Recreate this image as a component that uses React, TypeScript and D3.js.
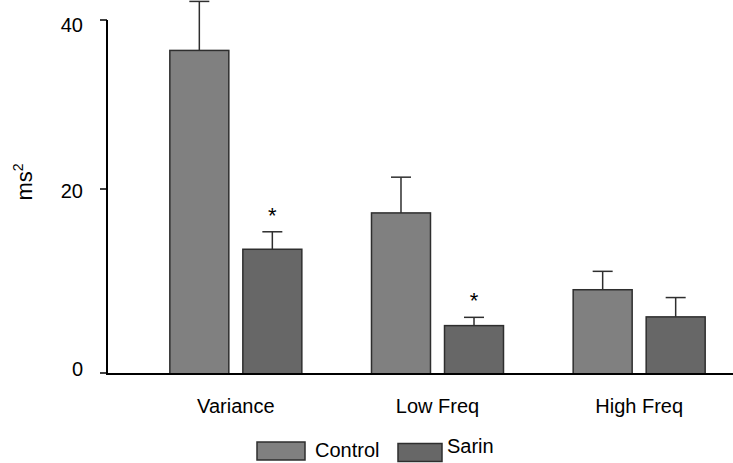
import React from 'react';
import * as d3 from 'd3';

const categories = ['Variance', 'Low Freq', 'High Freq'];
const groups = ['Control', 'Sarin'];
const controlValues = [36.4, 17.4, 9.05];
const controlErrors = [5.8, 4.0, 2.0];
const sarinValues = [13.45, 5.15, 6.1];
const sarinErrors = [1.9, 0.9, 2.1];
const significant = [false, true, false, true, false, false]; // control, sarin per category
const yTicks = [0, 20, 40];

const colors: Record<string, string> = { Control: '#808080', Sarin: '#676767' };
const edge = '#2e2e2e';
const font = 'Liberation Sans, Arial, sans-serif';

export default function App() {
	const width = 733;
	const height = 463;

	// axis in the original is not evenly spaced between ticks
	const y = d3.scaleLinear().domain([0, 20, 40]).range([373, 189, 20]);
	const x = d3.scaleBand().domain(categories).range([135, 740]);
	const inner = d3
		.scaleBand()
		.domain(groups)
		.range([-66, 66])
		.paddingInner(0.192);

	const axisX = 107;
	const baseY = 374;

	const bars = categories.flatMap((c, i) =>
		groups.map((g, j) => {
			const v = g === 'Control' ? controlValues[i] : sarinValues[i];
			const e = g === 'Control' ? controlErrors[i] : sarinErrors[i];
			const cx = (x(c) as number) + x.bandwidth() / 2;
			const bx = cx + (inner(g) as number);
			return { c, g, v, e, bx, star: significant[i * 2 + j] };
		})
	);

	return (
		<svg width={width} height={height} style={{ position: 'absolute', left: 0, top: 0 }}>
			<rect width={width} height={height} fill="#fff" />
			{bars.map(b => {
				const mid = b.bx + inner.bandwidth() / 2;
				const top = y(b.v);
				const capY = y(b.v + b.e);
				return (
					<g key={b.c + b.g}>
						<line x1={mid} x2={mid} y1={top} y2={capY} stroke={edge} strokeWidth={1.5} />
						<line x1={mid - 10} x2={mid + 10} y1={capY} y2={capY} stroke={edge} strokeWidth={1.5} />
						<rect
							x={b.bx}
							y={top}
							width={inner.bandwidth()}
							height={baseY - top}
							fill={colors[b.g]}
							stroke={edge}
							strokeWidth={1.5}
						/>
						{b.star && (
							<text x={mid} y={capY - 9} textAnchor="middle" fontFamily={font} fontSize={22}>
								*
							</text>
						)}
					</g>
				);
			})}

			{/* axes */}
			<line x1={axisX} x2={axisX} y1={y(40)} y2={baseY + 1} stroke="#000" strokeWidth={2} />
			<line x1={axisX - 1} x2={width} y1={baseY} y2={baseY} stroke="#000" strokeWidth={2} />
			{yTicks.map(t => (
				<g key={t}>
					<line x1={axisX - 7} x2={axisX} y1={y(t)} y2={y(t)} stroke="#000" strokeWidth={1.5} />
					<text
						x={83}
						y={y(t) + (t === 40 ? 5 : t === 0 ? -4 : 1.5)}
						dy="0.35em"
						textAnchor="end"
						fontFamily={font}
						fontSize={20}
					>
						{t}
					</text>
				</g>
			))}
			<text
				transform={`translate(32, 182) rotate(-90)`}
				textAnchor="middle"
				fontFamily={font}
				fontSize={22}
			>
				ms<tspan dy={-9} fontSize={14}>2</tspan>
			</text>

			{categories.map(c => (
				<text
					key={c}
					x={(x(c) as number) + x.bandwidth() / 2}
					y={413}
					textAnchor="middle"
					fontFamily={font}
					fontSize={20}
				>
					{c}
				</text>
			))}

			{/* legend */}
			<rect x={257} y={442} width={48} height={18} fill={colors.Control} stroke={edge} strokeWidth={1.5} />
			<text x={315} y={457} fontFamily={font} fontSize={20}>
				Control
			</text>
			<rect x={398} y={443.5} width={44} height={18} fill={colors.Sarin} stroke={edge} strokeWidth={1.5} />
			<text x={447} y={453} fontFamily={font} fontSize={20}>
				Sarin
			</text>
		</svg>
	);
}
